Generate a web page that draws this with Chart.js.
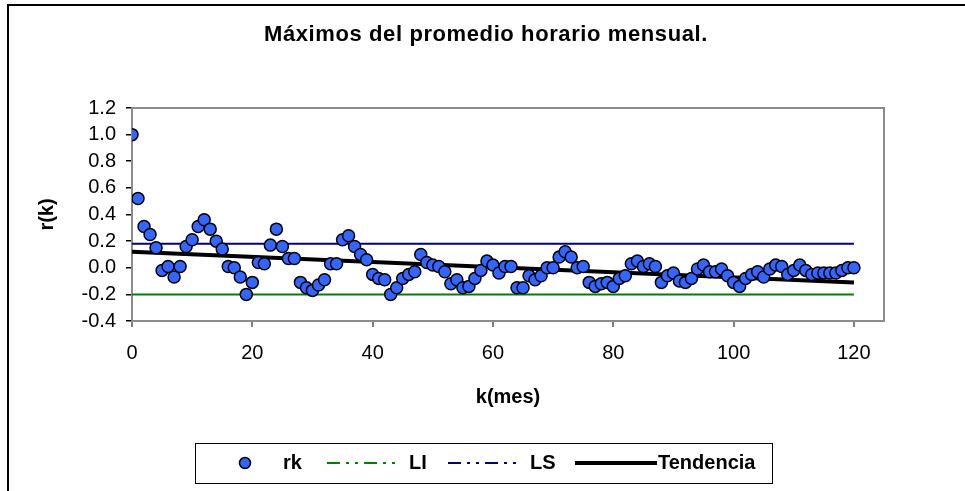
<!DOCTYPE html>
<html>
<head>
<meta charset="utf-8">
<script src="https://cdn.jsdelivr.net/npm/chart.js"></script>
<style>
  body { margin: 0; background: #fff; }
  #wrap { width: 965px; height: 491px; }
</style>
</head>
<body>
<div id="wrap"><canvas id="acf"></canvas></div>
<script>
var titulo = 'Máximos del promedio horario mensual.';

// autocorrelacion r(k), k = 0..120
var rk = [1.00, 0.52, 0.31, 0.25, 0.15, -0.02, 0.01, -0.07, 0.01, 0.16,
          0.21, 0.31, 0.36, 0.29, 0.20, 0.14, 0.01, 0.00, -0.07, -0.20,
          -0.11, 0.04, 0.03, 0.17, 0.29, 0.16, 0.07, 0.07, -0.11, -0.15,
          -0.17, -0.13, -0.09, 0.03, 0.03, 0.21, 0.24, 0.16, 0.10, 0.06,
          -0.05, -0.08, -0.09, -0.20, -0.15, -0.08, -0.05, -0.03, 0.10, 0.04,
          0.02, 0.01, -0.03, -0.12, -0.09, -0.15, -0.14, -0.08, -0.02, 0.05,
          0.02, -0.04, 0.01, 0.01, -0.15, -0.15, -0.06, -0.09, -0.06, 0.00,
          0.00, 0.08, 0.12, 0.08, 0.00, 0.01, -0.11, -0.14, -0.12, -0.11,
          -0.14, -0.08, -0.06, 0.03, 0.05, 0.01, 0.03, 0.01, -0.11, -0.06,
          -0.04, -0.10, -0.11, -0.08, -0.01, 0.02, -0.03, -0.03, -0.01, -0.06,
          -0.11, -0.14, -0.08, -0.05, -0.03, -0.07, -0.01, 0.02, 0.01, -0.05,
          -0.02, 0.02, -0.02, -0.05, -0.04, -0.04, -0.04, -0.04, -0.02, 0.00,
          0.00];

var limX = [0, 120];
var LI = [-0.20, -0.20];
var LS = [0.18, 0.18];
var tendencia = [0.12, -0.11];

var xTicks = [0, 20, 40, 60, 80, 100, 120];
var yTicks = [-0.4, -0.2, 0.0, 0.2, 0.4, 0.6, 0.8, 1.0, 1.2];

var fuente = 'Liberation Sans, Arial, sans-serif';

function puntos(xs, ys) {
    return xs.map(function (x, i) { return { x: x, y: ys[i] }; });
}

// borde del grafico, borde del area de trazado, titulo y leyenda
var marcoExcel = {
    id: 'marcoExcel',
    beforeDraw: function (chart) {
        var ctx = chart.ctx;
        ctx.save();
        ctx.fillStyle = '#fff';
        ctx.fillRect(0, 0, chart.width, chart.height);
        ctx.strokeStyle = '#000';
        ctx.lineWidth = 2;
        ctx.strokeRect(8, 5, chart.width + 40, chart.height + 40);
        ctx.restore();
    },
    beforeDatasetsDraw: function (chart) {
        var ctx = chart.ctx, a = chart.chartArea;
        ctx.save();
        ctx.strokeStyle = '#8c8c8c';
        ctx.lineWidth = 2;
        ctx.strokeRect(a.left, a.top, a.right - a.left, a.bottom - a.top);
        ctx.restore();
    },
    afterDraw: function (chart) {
        var ctx = chart.ctx;
        var ds = chart.data.datasets;
        ctx.save();
        ctx.fillStyle = '#000';
        ctx.textAlign = 'center';
        ctx.textBaseline = 'middle';
        ctx.font = 'bold 22px ' + fuente;
        if ('letterSpacing' in ctx) ctx.letterSpacing = '0.6px';
        ctx.fillText(titulo, 486, 35);
        if ('letterSpacing' in ctx) ctx.letterSpacing = '0px';

        // leyenda
        var y = 463;
        ctx.lineWidth = 1;
        ctx.strokeStyle = '#000';
        ctx.strokeRect(195.5, 443.5, 577, 40);

        ctx.beginPath();
        ctx.arc(245, y, 5.5, 0, Math.PI * 2);
        ctx.fillStyle = ds[0].pointBackgroundColor;
        ctx.fill();
        ctx.lineWidth = 1.5;
        ctx.stroke();

        var items = [
            { ds: ds[1], x0: 327, x1: 400, tx: 409, dash: [13, 6, 3, 6, 3, 6] },
            { ds: ds[2], x0: 448, x1: 519, tx: 530, dash: [13, 6, 3, 6, 3, 6] },
            { ds: ds[3], x0: 575, x1: 657, tx: 658, dash: [] }
        ];
        items.forEach(function (it) {
            ctx.beginPath();
            ctx.setLineDash(it.dash);
            ctx.strokeStyle = it.ds.borderColor;
            ctx.lineWidth = it.ds.borderWidth;
            ctx.moveTo(it.x0, y);
            ctx.lineTo(it.x1, y);
            ctx.stroke();
        });
        ctx.setLineDash([]);
        ctx.fillStyle = '#000';
        ctx.textAlign = 'left';
        ctx.font = 'bold 20px ' + fuente;
        ctx.fillText(ds[0].label, 283, y);
        items.forEach(function (it) {
            ctx.fillText(it.ds.label, it.tx, y);
        });
        ctx.restore();
    }
};

var ctx = document.getElementById('acf').getContext('2d');
new Chart(ctx, {
    type: 'scatter',
    data: {
        datasets: [
            {
                label: 'rk',
                data: puntos(rk.map(function (v, i) { return i; }), rk),
                showLine: false,
                pointRadius: 6,
                pointBackgroundColor: '#3366ff',
                pointBorderColor: '#000',
                pointBorderWidth: 1.5,
                order: 0
            },
            {
                label: 'LI',
                data: puntos(limX, LI),
                showLine: true,
                borderColor: '#008000',
                borderWidth: 2,
                pointRadius: 0,
                order: 1
            },
            {
                label: 'LS',
                data: puntos(limX, LS),
                showLine: true,
                borderColor: '#000080',
                borderWidth: 2,
                pointRadius: 0,
                order: 1
            },
            {
                label: 'Tendencia',
                data: puntos(limX, tendencia),
                showLine: true,
                borderColor: '#000',
                borderWidth: 4,
                pointRadius: 0,
                order: 1
            }
        ]
    },
    options: {
        responsive: true,
        maintainAspectRatio: false,
        animation: false,
        events: [],
        layout: { padding: { top: 108, left: 0, right: 81, bottom: 70 } },
        plugins: {
            legend: { display: false },
            title: { display: false },
            tooltip: { enabled: false }
        },
        scales: {
            x: {
                type: 'linear',
                min: 0,
                max: 125,
                afterBuildTicks: function (scale) {
                    scale.ticks = xTicks.map(function (v) { return { value: v }; });
                },
                afterFit: function (scale) { scale.height = 100; },
                grid: { drawOnChartArea: false, drawTicks: true, tickLength: 6, tickColor: '#808080', lineWidth: 2 },
                border: { color: '#808080', width: 2 },
                ticks: { color: '#000', padding: 14, autoSkip: false, maxRotation: 0, font: { family: fuente, size: 20 } },
                title: {
                    display: true,
                    text: 'k(mes)',
                    color: '#000',
                    padding: { top: 0, bottom: 12 },
                    font: { family: fuente, size: 20, weight: 'bold' }
                }
            },
            y: {
                min: -0.4,
                max: 1.2,
                afterBuildTicks: function (scale) {
                    scale.ticks = yTicks.map(function (v) { return { value: v }; });
                },
                afterFit: function (scale) { scale.width = 132; },
                grid: { drawOnChartArea: false, drawTicks: true, tickLength: 6, tickColor: '#000', lineWidth: 1.5 },
                border: { color: '#404040', width: 2 },
                ticks: {
                    color: '#000',
                    padding: 10,
                    autoSkip: false,
                    font: { family: fuente, size: 20 },
                    callback: function (v) { return v.toFixed(1); }
                },
                title: {
                    display: true,
                    text: 'r(k)',
                    color: '#000',
                    padding: { top: 35, bottom: 0 },
                    font: { family: fuente, size: 20, weight: 'bold' }
                }
            }
        }
    },
    plugins: [marcoExcel]
});
</script>
</body>
</html>
